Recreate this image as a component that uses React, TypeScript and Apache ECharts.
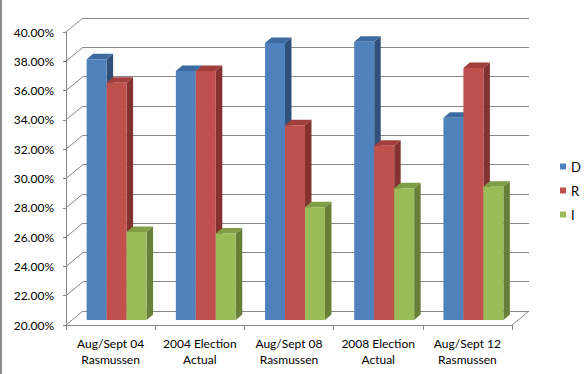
import React, { useEffect, useRef } from "react";
import * as echarts from "echarts";

const categories = [
  "Aug/Sept 04\nRasmussen",
  "2004 Election\nActual",
  "Aug/Sept 08\nRasmussen",
  "2008 Election\nActual",
  "Aug/Sept 12\nRasmussen",
];
const seriesNames = ["D", "R", "I"];
const dValues = [37.8, 37.0, 38.9, 39.0, 33.8];
const rValues = [36.2, 37.0, 33.3, 31.9, 37.2];
const iValues = [26.0, 25.9, 27.7, 29.0, 29.1];
const yTicks = [20, 22, 24, 26, 28, 30, 32, 34, 36, 38, 40];

const Y_MIN = 20;
const Y_MAX = 40;

const palettes = [
  { front: "#4F81BD", top: "#3D6AA0", side: "#2F5079" },
  { front: "#C0504D", top: "#A23E3B", side: "#843230" },
  { front: "#9BBB59", top: "#809E45", side: "#687F38" },
];

const FONT = "Lato, 'Liberation Sans', sans-serif";
const GRID_COLOR = "#878787";

function barSeries(si: number, values: number[]) {
  const pal = palettes[si];
  return {
    type: "custom",
    name: seriesNames[si],
    xAxisIndex: 2,
    yAxisIndex: 2,
    itemStyle: { color: pal.front },
    encode: { x: 0, y: 1 },
    data: values.map((v, i) => [i, v]),
    renderItem: (params: any, api: any) => {
      const cat = api.value(0);
      const v = api.value(1);
      const top = api.coord([cat, v]);
      const base = api.coord([cat, Y_MIN]);
      const catW = api.size([1, 0])[0];
      const bw = catW * 0.224;
      const dx = 6.5;
      const dy = -5.5;
      const x0 = top[0] + (si - 1.5) * bw;
      const x1 = x0 + bw;
      const ty = top[1];
      const by = base[1];
      return {
        type: "group",
        children: [
          {
            type: "polygon",
            shape: {
              points: [
                [x1, ty],
                [x1 + dx, ty + dy],
                [x1 + dx, by + dy],
                [x1, by],
              ],
            },
            style: { fill: pal.side },
          },
          {
            type: "polygon",
            shape: {
              points: [
                [x0, ty],
                [x0 + dx, ty + dy],
                [x1 + dx, ty + dy],
                [x1, ty],
              ],
            },
            style: { fill: pal.top },
          },
          {
            type: "rect",
            shape: { x: x0, y: ty, width: bw, height: by - ty },
            style: { fill: pal.front },
          },
        ],
      };
    },
  };
}

export default function App() {
  const ref = useRef<HTMLDivElement>(null);
  useEffect(() => {
    if (!ref.current) return;
    document.body.style.margin = "0";
    const chart = echarts.init(ref.current, undefined, { renderer: "svg" });
    const DX = 17;
    const DY = -14;
    const option: any = {
      animation: false,
      backgroundColor: "#ffffff",
      textStyle: { fontFamily: FONT },
      grid: [
        { left: 83, right: 56, top: 18, bottom: 63 },
        { left: 66, right: 73, top: 32, bottom: 49 },
        { left: 72, right: 67, top: 27, bottom: 54 },
      ],
      xAxis: [
        { type: "category", gridIndex: 0, data: categories, show: false },
        {
          type: "category",
          gridIndex: 1,
          data: categories,
          axisLine: { show: true, lineStyle: { color: GRID_COLOR, width: 1 } },
          axisTick: { show: true, length: 5, lineStyle: { color: GRID_COLOR } },
          axisLabel: {
            color: "#000",
            fontFamily: FONT,
            fontSize: 12,
            lineHeight: 16,
            margin: 10,
            interval: 0,
          },
        },
        { type: "category", gridIndex: 2, data: categories, show: false },
      ],
      yAxis: [
        {
          type: "value",
          gridIndex: 0,
          min: Y_MIN,
          max: Y_MAX,
          interval: 2,
          axisLabel: { show: false },
          axisLine: { show: false },
          axisTick: { show: false },
          splitLine: { show: true, lineStyle: { color: GRID_COLOR, width: 1 } },
        },
        {
          type: "value",
          gridIndex: 1,
          min: Y_MIN,
          max: Y_MAX,
          interval: 2,
          axisLabel: {
            color: "#000",
            fontFamily: FONT,
            fontSize: 12,
            margin: 12,
            formatter: (v: number) => v.toFixed(2) + "%",
          },
          axisLine: { show: true, lineStyle: { color: GRID_COLOR, width: 1 } },
          axisTick: { show: true, length: 3, lineStyle: { color: GRID_COLOR } },
          splitLine: { show: false },
        },
        {
          type: "value",
          gridIndex: 2,
          min: Y_MIN,
          max: Y_MAX,
          show: false,
          splitLine: { show: false },
        },
      ],
      legend: {
        orient: "vertical",
        left: 555,
        top: 155,
        data: seriesNames,
        icon: "rect",
        itemWidth: 6,
        itemHeight: 6,
        itemGap: 11,
        textStyle: { color: "#000", fontFamily: FONT, fontSize: 13 },
      },
      graphic: [
        {
          type: "rect",
          left: 0,
          top: 0,
          shape: { x: 0, y: 0, width: 2, height: 374 },
          style: { fill: "#8a8a8a" },
        },
      ],
      series: [
        {
          type: "custom",
          name: "frame",
          xAxisIndex: 1,
          yAxisIndex: 1,
          silent: true,
          encode: { x: 0, y: 1 },
          data: yTicks.map((t) => [0, t]),
          renderItem: (params: any, api: any) => {
            const cs = params.coordSys;
            const v = api.value(1);
            const p = api.coord([0, v]);
            const children: any[] = [
              {
                type: "line",
                shape: { x1: cs.x, y1: p[1], x2: cs.x + DX, y2: p[1] + DY },
                style: { stroke: GRID_COLOR, lineWidth: 1 },
              },
            ];
            if (v === Y_MIN) {
              const xr = cs.x + cs.width;
              children.push({
                type: "line",
                shape: { x1: xr, y1: p[1], x2: xr + DX, y2: p[1] + DY },
                style: { stroke: GRID_COLOR, lineWidth: 1 },
              });
            }
            return { type: "group", children };
          },
        },
        barSeries(0, dValues),
        barSeries(1, rValues),
        barSeries(2, iValues),
      ],
    };
    chart.setOption(option);
    return () => chart.dispose();
  }, []);
  return (
    <div
      ref={ref}
      style={{ position: "fixed", left: 0, top: 0, width: 585, height: 374 }}
    />
  );
}
